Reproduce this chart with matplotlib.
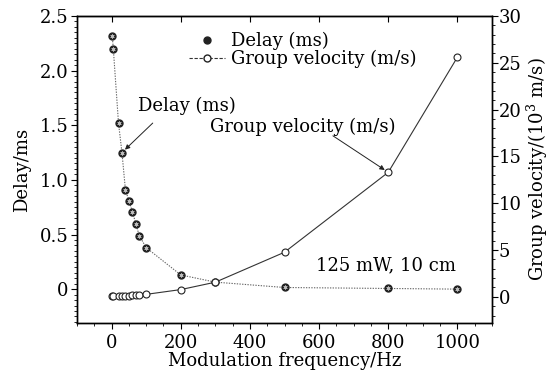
import matplotlib
matplotlib.use("Agg")
import matplotlib.pyplot as plt
from matplotlib.ticker import AutoMinorLocator, FixedLocator
from matplotlib.lines import Line2D

plt.rcParams['font.family'] = ['DejaVu Serif']
plt.rcParams['mathtext.fontset'] = 'dejavuserif'

freq_delay = [2, 5, 20, 30, 40, 50, 60, 70, 80, 100, 200, 300, 500, 800, 1000]
delay_ms = [2.32, 2.20, 1.52, 1.25, 0.91, 0.81, 0.71, 0.60, 0.49, 0.38, 0.13, 0.064, 0.015, 0.006, 0.0]

freq_vel = [2, 5, 20, 30, 40, 50, 60, 70, 80, 100, 200, 300, 500, 800, 1000]
velocity_k = [0.04, 0.05, 0.07, 0.08, 0.11, 0.12, 0.14, 0.17, 0.2, 0.26, 0.77, 1.56, 4.76, 13.3, 25.6]

xticks = [0, 200, 400, 600, 800, 1000]
left_ticks = [0, 0.5, 1.0, 1.5, 2.0, 2.5]
left_labels = ['0', '0.5', '1.0', '1.5', '2.0', '2.5']
right_ticks = [0, 5, 10, 15, 20, 25, 30]

FS = 13

fig = plt.figure(figsize=(5.49, 3.74), dpi=100)
ax = fig.add_axes([77/549, 1 - 323/374, (492-77)/549, (323-16)/374])
ax2 = ax.twinx()

# Delay
ax.plot(freq_delay, delay_ms, linestyle=(0, (1.2, 1.2)), color='#666666', lw=0.8, zorder=2)
ax.plot(freq_delay, delay_ms, linestyle='none', marker='o', ms=5, mfc='#222222', mec='#222222', zorder=3)
ax.plot(freq_delay, delay_ms, linestyle='none', marker=(6, 2, 0), ms=3, mec='#bbbbbb', mew=0.5, zorder=4)

# Group velocity
ax2.plot(freq_vel, velocity_k, color='#333333', lw=0.8, marker='o', ms=5,
         mfc='white', mec='#222222', mew=0.8, zorder=5)

ax.set_xlim(-100, 1100)
ax.set_ylim(-0.31, 2.5)
ax2.set_ylim(-2.8, 30)

ax.xaxis.set_major_locator(FixedLocator(xticks))
ax.xaxis.set_minor_locator(AutoMinorLocator(4))
ax.set_yticks(left_ticks)
ax.set_yticklabels(left_labels)
ax.yaxis.set_minor_locator(AutoMinorLocator(10))
ax2.set_yticks(right_ticks)
ax2.yaxis.set_minor_locator(AutoMinorLocator(5))

ax.tick_params(axis='x', which='both', direction='out', top=False, labelsize=FS, pad=4)
ax.tick_params(axis='y', which='both', direction='out', labelsize=FS, pad=2)
ax.tick_params(which='major', length=4, width=0.8)
ax.tick_params(which='minor', length=2, width=0.6)
ax2.tick_params(axis='y', which='both', direction='out', labelsize=FS, pad=1)
ax2.tick_params(which='major', length=4, width=0.8)
ax2.tick_params(which='minor', length=2, width=0.6)

# top inward ticks
secx = ax.secondary_xaxis('top')
secx.set_xticks(xticks)
secx.tick_params(direction='in', length=4, labeltop=False)
secx.set_xticklabels([])

ax.set_xlabel('Modulation frequency/Hz', fontsize=FS, labelpad=0)
ax.set_ylabel('Delay/ms', fontsize=FS, labelpad=6)
ax2.set_ylabel('Group velocity/($10^3$ m/s)', fontsize=FS, labelpad=2)

for sp in list(ax.spines.values()) + list(ax2.spines.values()):
    sp.set_linewidth(1.0)

# Legend
h1 = Line2D([], [], linestyle='none', marker='o', ms=5, mfc='#222222', mec='#222222')
h2 = Line2D([], [], color='#333333', lw=0.8, linestyle=(0, (3, 1.5)), marker='o', ms=5, mfc='white', mec='#222222')
leg = ax.legend([h1, h2], ['Delay (ms)', 'Group velocity (m/s)'], loc='upper left',
                bbox_to_anchor=(0.24, 0.99), frameon=False, fontsize=FS,
                handlelength=2.0, handletextpad=0.3, labelspacing=0.0, borderpad=0.2)

arrow_kw = dict(arrowstyle='-|>', color='#222222', lw=0.7, mutation_scale=7, shrinkA=0, shrinkB=3)

ax.text(75, 1.68, 'Delay (ms)', fontsize=FS, ha='left', va='center')
ax.annotate('', xy=(30, 1.25), xytext=(119, 1.52), arrowprops=arrow_kw)

ax2.text(284, 18.2, 'Group velocity (m/s)', fontsize=FS, ha='left', va='center')
ax2.annotate('', xy=(800, 13.3), xytext=(640, 17.2), arrowprops=arrow_kw)

ax.text(591, 0.22, '125 mW, 10 cm', fontsize=FS, ha='left', va='center')

fig.savefig('out.png', dpi=100)
